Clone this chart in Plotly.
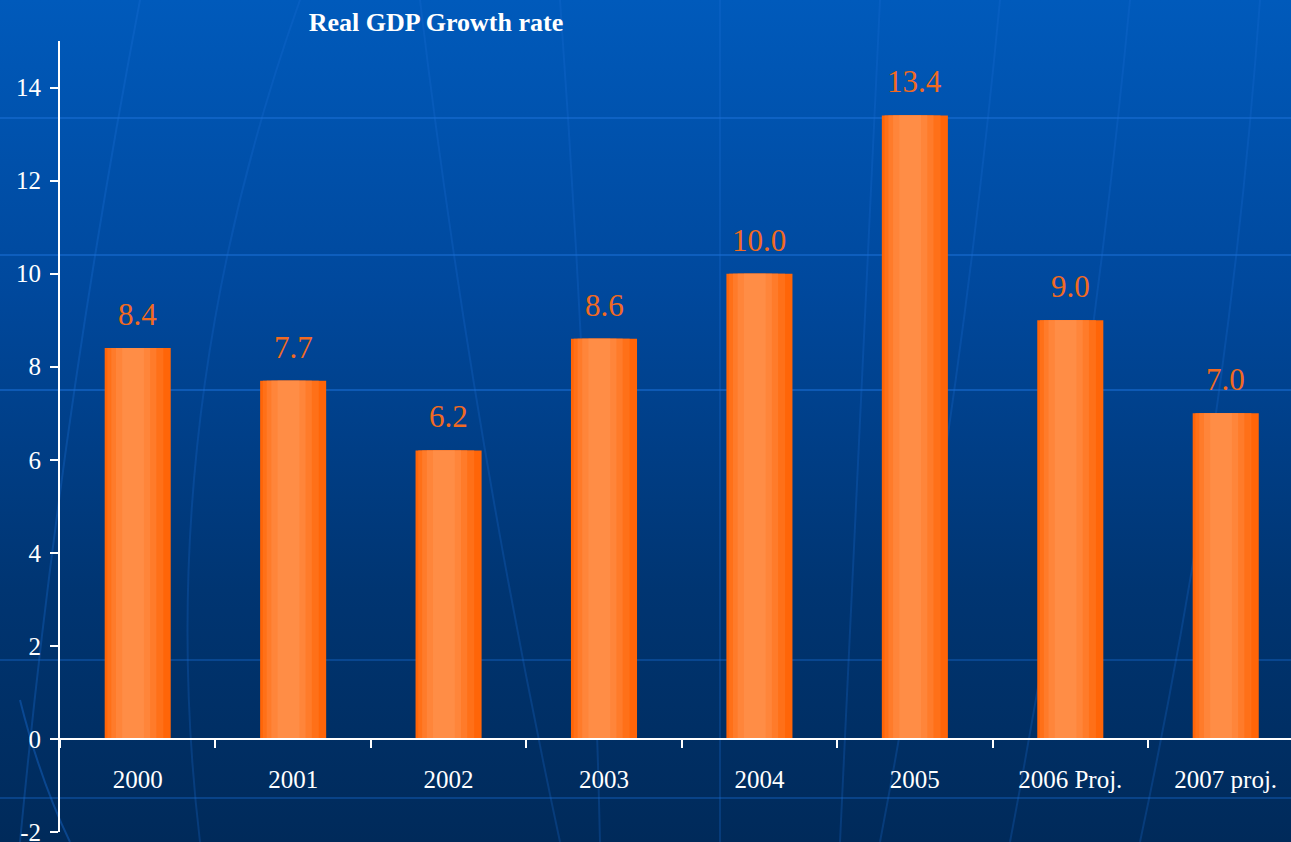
import base64
import plotly.graph_objects as go

# data
years = ['2000', '2001', '2002', '2003', '2004', '2005', '2006 Proj.', '2007 proj.']
growth = [8.4, 7.7, 6.2, 8.6, 10.0, 13.4, 9.0, 7.0]
y_ticks = [-2, 0, 2, 4, 6, 8, 10, 12, 14]
y_ticktext = ['-2', '0', '2', '4', '6', '8', '10', '12', '14']

W, H = 1291, 842
L, R, T, B = 60, 0, 41, 10

# background: blue gradient with faint globe lines (decoration only)
svg = f'''<svg xmlns="http://www.w3.org/2000/svg" width="{W}" height="{H}" viewBox="0 0 {W} {H}">
<defs><linearGradient id="g" x1="0" y1="0" x2="0" y2="1">
<stop offset="0" stop-color="#005abb"/><stop offset="0.35" stop-color="#00489c"/>
<stop offset="0.7" stop-color="#003572"/><stop offset="1" stop-color="#002a5a"/></linearGradient></defs>
<rect width="{W}" height="{H}" fill="url(#g)"/>
<g stroke="#1a6fd6" stroke-opacity="0.55" stroke-width="2" fill="none">
<path d="M0 118 L{W} 118"/><path d="M0 255 L{W} 255"/><path d="M0 390 L{W} 390"/>
<path d="M0 660 L{W} 660" stroke-opacity="0.35"/><path d="M0 798 L{W} 798" stroke-opacity="0.35"/>
<path d="M140 0 Q60 420 20 842" stroke-opacity="0.3"/>
<path d="M20 700 Q40 780 70 842" stroke-opacity="0.4"/>
<path d="M300 0 Q150 420 200 842" stroke-opacity="0.25"/>
<path d="M420 0 Q470 420 560 842" stroke-opacity="0.25"/>
<path d="M560 0 Q590 420 600 842" stroke-opacity="0.25"/>
<path d="M720 0 Q720 420 720 842" stroke-opacity="0.25"/>
<path d="M880 0 Q860 420 840 842" stroke-opacity="0.25"/>
<path d="M1000 0 Q960 420 880 842" stroke-opacity="0.25"/>
<path d="M1130 0 Q1090 420 1010 842" stroke-opacity="0.25"/>
<path d="M1260 0 Q1230 420 1140 842" stroke-opacity="0.25"/>
</g></svg>'''
bg_src = 'data:image/svg+xml;base64,' + base64.b64encode(svg.encode()).decode()

pw, ph = W - L - R, H - T - B

fig = go.Figure()

# bars with a faked horizontal gradient: stacked overlays of narrower, lighter bars
layers = [
    (0.425, 0.0, '#ff6508'),
    (0.36, -0.015, '#ff7018'),
    (0.29, -0.025, '#ff7b2a'),
    (0.22, -0.03, '#ff853a'),
    (0.14, -0.03, '#ff8d46'),
]
for w, shift, col in layers:
    fig.add_trace(go.Bar(
        x=years, y=growth,
        width=w, offset=-w / 2 + shift,
        marker=dict(color=col, line=dict(width=0)),
        hoverinfo='skip', showlegend=False,
    ))

# value labels above the bars (x as category index)
for i, v in enumerate(growth):
    fig.add_annotation(
        x=i, y=v, text=f'{v:.1f}', showarrow=False,
        yanchor='bottom', yshift=14,
        font=dict(family='Liberation Serif', size=31, color='#f26a21'),
    )

y_lo = -2.0
fig.update_layout(
    width=W, height=H,
    margin=dict(l=L, r=R, t=T, b=B, autoexpand=False),
    barmode='overlay',
    paper_bgcolor='#003572',
    plot_bgcolor='rgba(0,0,0,0)',
    showlegend=False,
    title=dict(
        text='<b>Real GDP Growth rate</b>',
        x=436 / W, xref='container', xanchor='center',
        y=1 - 22 / H, yref='container', yanchor='middle',
        font=dict(family='Liberation Serif', size=26, color='white'),
    ),
    images=[dict(
        source=bg_src, xref='paper', yref='paper',
        x=-L / pw, y=1 + T / ph, sizex=W / pw, sizey=H / ph,
        xanchor='left', yanchor='top', sizing='stretch', layer='below',
    )],
    xaxis=dict(
        type='category',
        range=[-0.5, 7.42],
        anchor='free', position=(0 - y_lo) / (15 - y_lo),
        showline=True, linecolor='white', linewidth=2,
        ticks='outside', tickson='boundaries', ticklen=8, tickcolor='white', tickwidth=2,
        ticklabelstandoff=18, ticklabeloverflow='allow',
        showgrid=False, zeroline=False,
        tickfont=dict(family='Liberation Serif', size=25, color='white'),
    ),
    yaxis=dict(
        range=[y_lo, 15],
        tickvals=y_ticks, ticktext=y_ticktext,
        showline=True, linecolor='white', linewidth=2,
        ticks='outside', ticklen=8, tickcolor='white', tickwidth=2,
        ticklabelstandoff=4, ticklabeloverflow='allow',
        showgrid=False, zeroline=False,
        tickfont=dict(family='Liberation Serif', size=25, color='white'),
    ),
)

fig.write_html('out.html', config={'displayModeBar': False},
               post_script="document.body.style.margin='0';")
